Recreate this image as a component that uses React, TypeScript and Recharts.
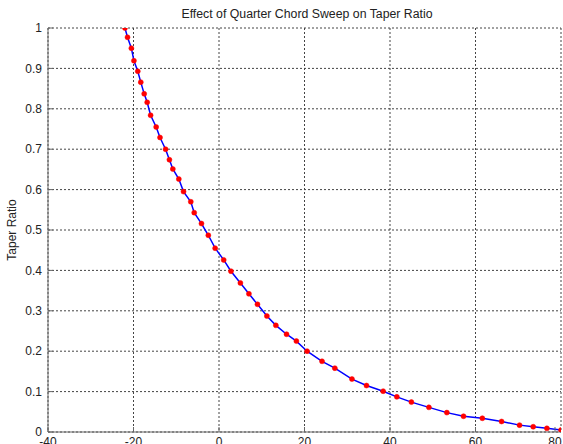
import { CartesianGrid, Line, LineChart, XAxis, YAxis } from "recharts";

// quarter chord sweep (deg) vs taper ratio
const sweepDeg = [
  -22, -21.4, -20.5, -19.9, -19.0, -18.3, -17.5, -16.8, -16.0, -14.7, -13.8,
  -12.5, -11.6, -10.8, -9.4, -8.3, -6.6, -5.8, -4.1, -2.5, -0.9, 1.1, 2.8, 5.0,
  7.0, 9.0, 11.2, 13.3, 15.8, 18.1, 20.6, 24.1, 27.1, 31.1, 34.5, 38.4, 41.6,
  45.0, 49.1, 53.3, 57.2, 61.6, 66.1, 70.3, 73.5, 76.7, 80,
];
const taperRatio = [
  1.0, 0.977, 0.95, 0.919, 0.893, 0.866, 0.837, 0.816, 0.784, 0.755, 0.729,
  0.7, 0.674, 0.651, 0.626, 0.595, 0.57, 0.543, 0.516, 0.487, 0.455, 0.426,
  0.398, 0.369, 0.342, 0.316, 0.287, 0.264, 0.242, 0.225, 0.2, 0.175, 0.158,
  0.131, 0.115, 0.101, 0.087, 0.074, 0.061, 0.048, 0.039, 0.034, 0.026, 0.017,
  0.013, 0.009, 0.005,
];
const xTicks = [-40, -20, 0, 20, 40, 60, 80];
const yTicks = [0, 0.1, 0.2, 0.3, 0.4, 0.5, 0.6, 0.7, 0.8, 0.9, 1];

const data = sweepDeg.map((s, i) => ({ sweep: s, taper: taperRatio[i] }));

const font = "'Liberation Sans', Arial, sans-serif";
const axisColor = "#666";

function XTick({ x, y, payload }: any) {
  return (
    <g>
      <line x1={x} x2={x} y1={y - 5} y2={y - 10} stroke={axisColor} />
      <text
        x={x}
        y={y}
        dy="0.71em"
        textAnchor="middle"
        fill="#222"
        fontSize={12}
        fontFamily={font}
      >
        {payload.value}
      </text>
    </g>
  );
}

function YTick({ x, y, payload }: any) {
  return (
    <g>
      <line x1={x + 6} x2={x + 11} y1={y} y2={y} stroke={axisColor} />
      <text
        x={x}
        y={y}
        dy="0.355em"
        textAnchor="end"
        fill="#222"
        fontSize={12}
        fontFamily={font}
      >
        {payload.value}
      </text>
    </g>
  );
}

export default function App() {
  return (
    <div
      style={{
        position: "fixed",
        left: 0,
        top: 0,
        width: 563,
        height: 444,
        overflow: "hidden",
        background: "#fff",
      }}
    >
      <LineChart
        data={data}
        width={563}
        height={444}
        margin={{ top: 28, right: 2, bottom: 0, left: 0 }}
      >
        <CartesianGrid
          stroke="#444"
          strokeDasharray="2 2"
          horizontalValues={yTicks}
          verticalValues={xTicks}
        />
        <XAxis
          dataKey="sweep"
          type="number"
          domain={[-40, 80]}
          ticks={xTicks}
          height={12}
          tickSize={0}
          tickMargin={5}
          tick={<XTick />}
          stroke={axisColor}
          allowDataOverflow
        />
        <YAxis
          type="number"
          domain={[0, 1]}
          ticks={yTicks}
          width={48}
          tickSize={0}
          tickMargin={6}
          tick={<YTick />}
          stroke={axisColor}
          allowDataOverflow
        />
        <Line
          dataKey="taper"
          type="linear"
          stroke="#0000ff"
          strokeWidth={1.5}
          dot={{ r: 2.5, fill: "#ff0000", stroke: "#ff0000", strokeWidth: 0.5 }}
          isAnimationActive={false}
        />
      </LineChart>
      <svg
        width={563}
        height={444}
        style={{ position: "absolute", left: 0, top: 0, pointerEvents: "none" }}
      >
        <text
          x={307}
          y={18}
          textAnchor="middle"
          fontSize={12.3}
          fontFamily={font}
          fill="#222"
        >
          Effect of Quarter Chord Sweep on Taper Ratio
        </text>
        <text
          x={16}
          y={230}
          textAnchor="middle"
          fontSize={12}
          fontFamily={font}
          fill="#222"
          transform="rotate(-90 16 230)"
        >
          Taper Ratio
        </text>
      </svg>
    </div>
  );
}
